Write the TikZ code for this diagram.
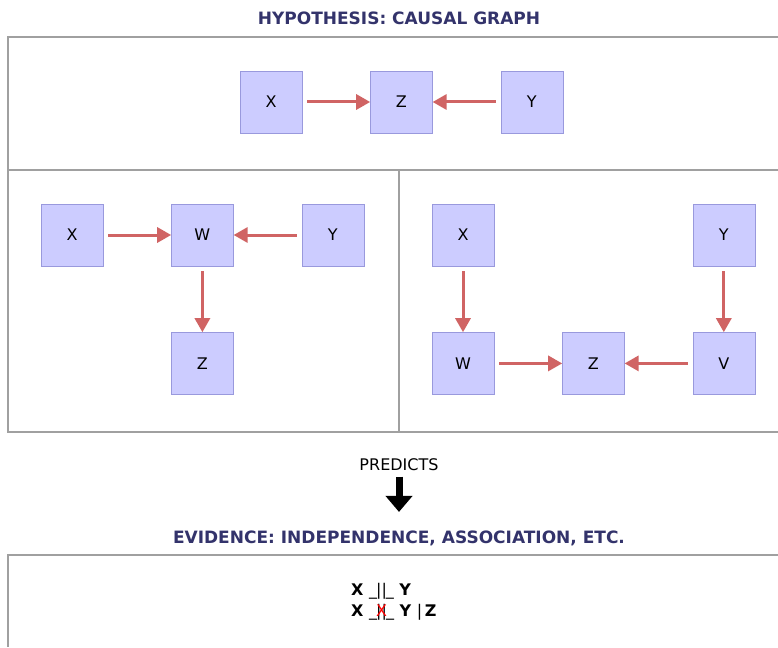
\documentclass[tikz,border=0pt]{standalone}
\usepackage{fontspec}
\setmainfont{DejaVu Sans}
\usepackage{xcolor}
\usetikzlibrary{arrows.meta,positioning}
\definecolor{boxfill}{HTML}{CCCCFF}
\definecolor{boxline}{HTML}{9999DD}
\definecolor{edgered}{HTML}{D06464}
\definecolor{titleblue}{HTML}{33336B}
\definecolor{framegray}{HTML}{A0A0A0}
\newcommand{\indepsym}{{\mdseries\_\kern-1pt||\kern-1pt\_}}
\newcommand{\notindepsym}{{\mdseries\_\kern-1pt\ooalign{\hfil||\hfil\cr\textcolor{red}{X}\cr}\kern-1pt\_}}
\tikzset{
var/.style={draw=boxline, fill=boxfill, minimum size=62pt, inner sep=0pt, font=\fontsize{16}{18}\selectfont}, % a variable of the graph
cause/.style={-{Triangle[width=15pt,length=14pt]}, draw=edgered, line width=3pt, shorten <=5pt}, % causal edge
frame/.style={draw=framegray, line width=1.2pt},
heading/.style={text=titleblue, font=\bfseries\fontsize{17}{19}\selectfont},
}

\begin{document}
\begin{tikzpicture}[x=1pt, y=-1pt, node distance=66pt and 68pt]
	\useasboundingbox (0,0) rectangle (778,647);
	% panels
	\draw[frame] (778,37) -- (8,37) -- (8,432) -- (778,432);
	\draw[frame] (8,170) -- (778,170);
	\draw[frame] (399,170) -- (399,432);
	\draw[frame] (778,555) -- (8,555) -- (8,647);
	\node[heading] (hyp) at (399,18) {HYPOTHESIS: CAUSAL GRAPH};
	% collider
	\node[var] (x1) at (271,102) {X};
	\node[var, right=of x1] (z1) {Z};
	\node[var, right=of z1] (y1) {Y};
	\draw[cause] (x1) -- (z1);
	\draw[cause] (y1) -- (z1);
	% collider with child
	\node[var] (x2) at (72,235) {X};
	\node[var, right=of x2] (w2) {W};
	\node[var, right=of w2] (y2) {Y};
	\node[var, below=of w2] (z2) {Z};
	\draw[cause] (x2) -- (w2);
	\draw[cause] (y2) -- (w2);
	\draw[cause] (w2) -- (z2);
	% chains into a collider
	\node[var] (x3) at (463,235) {X};
	\node[var, below=of x3] (w3) {W};
	\node[var, right=of w3] (z3) {Z};
	\node[var, right=of z3] (v3) {V};
	\node[var, above=of v3] (y3) {Y};
	\draw[cause] (x3) -- (w3);
	\draw[cause] (w3) -- (z3);
	\draw[cause] (y3) -- (v3);
	\draw[cause] (v3) -- (z3);
	% evidence
	\node[font=\fontsize{16}{18}\selectfont] (pred) at (399,465) {PREDICTS};
	\node[heading] (evid) at (399,538) {EVIDENCE: INDEPENDENCE, ASSOCIATION, ETC.};
	\draw[-{Triangle[width=26pt,length=16pt]}, line width=7pt, shorten <=2pt, shorten >=15pt] (pred) -- (evid);
	\node[anchor=west, inner sep=0pt, font=\bfseries\fontsize{16}{18}\selectfont] (ind1) at (351,591) {X \indepsym\ Y};
	\node[anchor=west, inner sep=0pt, font=\bfseries\fontsize{16}{18}\selectfont] (ind2) at (351,612) {X \notindepsym\ Y {\mdseries|}\,Z};
\end{tikzpicture}
\end{document}
